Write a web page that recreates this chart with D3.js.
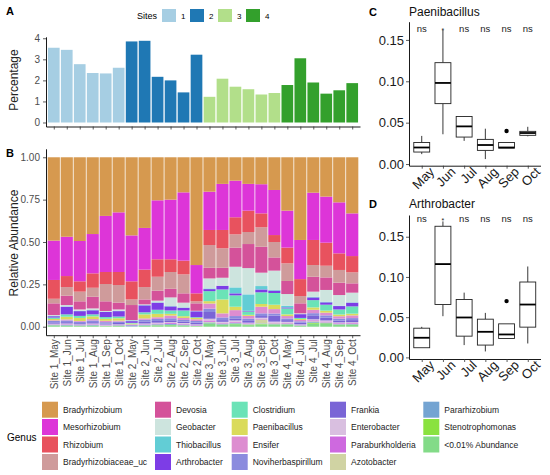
<!DOCTYPE html>
<html>
<head>
<meta charset="utf-8">
<script src="https://cdn.jsdelivr.net/npm/d3@7"></script>
<style>
  body { margin: 0; background: #fff; }
  text { font-family: "Liberation Sans", Arial, sans-serif; }
</style>
</head>
<body>
<div id="chart"></div>
<script>
// ---- data ----
const samples = ["Site 1_May","Site 1_Jun","Site 1_Jul","Site 1_Aug","Site 1_Sep","Site 1_Oct",
  "Site 2_May","Site 2_Jun","Site 2_Jul","Site 2_Aug","Site 2_Sep","Site 2_Oct",
  "Site 3_May","Site 3_Jun","Site 3_Jul","Site 3_Aug","Site 3_Sep","Site 3_Oct",
  "Site 4_May","Site 4_Jun","Site 4_Jul","Site 4_Aug","Site 4_Sep","Site 4_Oct"];
const sampleSite = ["1","1","1","1","1","1","2","2","2","2","2","2",
  "3","3","3","3","3","3","4","4","4","4","4","4"];
const siteNames = ["1","2","3","4"];
const siteColors = ["#a6cee3","#1f78b4","#b2df8a","#33a02c"];
const percentage = [3.55,3.45,2.77,2.35,2.33,2.6, 3.85,3.88,2.17,2.0,1.43,3.22,
  1.22,2.08,1.7,1.58,1.33,1.4, 1.78,3.05,1.9,1.37,1.53,1.87];

const genera = ["Bradyrhizobium","Mesorhizobium","Rhizobium","Bradyrhizobiaceae_uc",
  "Devosia","Geobacter","Thiobacillus","Arthrobacter",
  "Clostridium","Paenibacillus","Ensifer","Noviherbaspirillum",
  "Frankia","Enterobacter","Paraburkholderia","Azotobacter",
  "Pararhizobium","Stenotrophomonas","<0.01% Abundance"];
const genusColors = ["#d6994f","#dd35d8","#e8525e","#cf9b9b",
  "#d4529a","#cde4de","#62cdd5","#7d3de6",
  "#6be3b7","#dadb5b","#dd8dd0","#8b8bde",
  "#7a65d6","#d9bfe0","#ce69df","#d0d3a3",
  "#74a4d2","#8ae23f","#83db88"];
// one row per genus, one value per sample
const abundance = [
  [.492,.469,.494,.453,.346,.325,.461,.417,.254,.250,.207,.636,.203,.157,.138,.157,.159,.193,.315,.488,.209,.232,.266,.331],
  [.232,.232,.238,.232,.331,.352,.271,.246,.348,.352,.403,.167,.226,.272,.216,.158,.172,.266,.218,.231,.279,.272,.301,.252],
  [.111,.065,.061,.085,.071,.077,.107,.103,.103,.075,.081,.047,.089,.108,.101,.126,.082,.041,.093,.100,.148,.136,.098,.096],
  [.027,.051,.057,.053,.102,.104,.033,.073,.082,.099,.112,.012,.134,.115,.078,.071,.115,.091,.104,.043,.069,.069,.075,.065],
  [.069,.055,.048,.069,.057,.040,.089,.029,.059,.051,.055,.044,.063,.059,.113,.142,.153,.078,.077,.059,.088,.074,.073,.055],
  [.005,.008,.008,.009,.004,.008,.002,.004,.010,.051,.028,.002,.059,.047,.122,.155,.079,.114,.069,.004,.030,.069,.063,.057],
  [.002,.002,.002,.002,.002,.002,.004,.002,.002,.002,.002,.001,.004,.000,.035,.097,.020,.004,.010,.001,.004,.004,.002,.002],
  [.008,.045,.028,.024,.030,.032,.010,.041,.042,.024,.016,.035,.012,.022,.012,.004,.017,.014,.006,.022,.016,.014,.020,.022],
  [.008,.014,.012,.012,.010,.010,.004,.012,.024,.020,.034,.004,.059,.059,.067,.020,.069,.069,.035,.006,.043,.035,.030,.043],
  [.008,.016,.018,.016,.012,.014,.005,.024,.020,.010,.010,.008,.014,.082,.020,.006,.016,.026,.010,.006,.014,.012,.010,.010],
  [.004,.006,.005,.008,.008,.006,.002,.008,.010,.016,.012,.010,.030,.024,.035,.016,.039,.026,.014,.008,.020,.016,.014,.016],
  [.008,.010,.008,.010,.008,.008,.003,.012,.012,.012,.010,.010,.020,.016,.014,.010,.016,.012,.010,.008,.016,.014,.012,.012],
  [.008,.008,.007,.008,.006,.008,.003,.010,.010,.010,.008,.010,.040,.010,.012,.014,.010,.036,.010,.010,.020,.016,.010,.012],
  [.003,.004,.003,.004,.004,.003,.001,.004,.005,.006,.005,.004,.010,.006,.008,.004,.006,.006,.006,.003,.006,.006,.005,.005],
  [.002,.003,.002,.003,.002,.002,.001,.003,.004,.005,.004,.003,.008,.004,.005,.004,.004,.004,.004,.002,.006,.005,.004,.004],
  [.001,.001,.001,.001,.001,.001,.000,.001,.001,.001,.001,.001,.004,.002,.003,.002,.024,.003,.002,.001,.003,.002,.002,.002],
  [.004,.004,.003,.004,.002,.003,.002,.004,.005,.005,.004,.002,.006,.004,.004,.003,.003,.003,.003,.002,.005,.004,.003,.003],
  [.002,.001,.001,.001,.001,.001,.000,.001,.002,.002,.001,.001,.003,.002,.002,.002,.002,.002,.002,.001,.006,.004,.002,.002],
  [.006,.006,.004,.006,.003,.004,.002,.006,.007,.009,.007,.003,.016,.011,.015,.009,.014,.012,.012,.005,.018,.016,.010,.011]
];

const months = ["May","Jun","Jul","Aug","Sep","Oct"];
// [lower whisker, Q1, median, Q3, upper whisker]
const paeniStats = [[.012,.0145,.020,.026,.034],[.036,.073,.098,.1225,.162],[.028,.0326,.0455,.0575,.058],
  [.006,.0165,.023,.0298,.0427],[.0193,.0193,.020,.026,.026],[.0335,.0347,.0375,.0395,.045]];
const paeniOutliers = [[],[],[],[],[.040],[]];
const paeniSig = ["ns","*","ns","ns","ns","ns"];
const arthroStats = [[.012,.012,.0244,.0363,.038],[.0512,.0657,.116,.163,.169],[.0153,.0264,.0496,.0719,.0805],
  [.0074,.0153,.0318,.0475,.0553],[.0235,.0235,.0285,.0417,.0417],[.0173,.0376,.0657,.0937,.113]];
const arthroOutliers = [[],[],[],[],[.070],[]];
const arthroSig = ["ns","*","ns","ns","ns","ns"];

// ---- setup ----
const svg = d3.select("#chart").append("svg")
  .attr("width", 550).attr("height", 475);

function styleAxis(g, color, size) {
  g.select(".domain").attr("stroke", "#000").attr("stroke-width", 0.9);
  g.selectAll(".tick line").attr("stroke", "#333").attr("stroke-width", 0.8);
  g.selectAll(".tick text").attr("fill", color).style("font-size", size + "px")
    .style("font-family", "'Liberation Sans', Arial, sans-serif");
}

function panelLabel(x, y, t) {
  svg.append("text").attr("x", x).attr("y", y).text(t)
    .style("font-size", "11px").style("font-weight", "bold");
}

const xS = d3.scalePoint().domain(samples).range([46, 360]).padding(0.6);

// ---- panel A ----
const yA = d3.scaleLinear().domain([-0.19, 4.07]).range([126.5, 36.8]);
const gA = svg.append("g");
const bwA = xS.step() * 0.9;
gA.selectAll(".barA")
  .data(samples)
  .join("rect")
  .attr("class", "barA")
  .attr("x", d => xS(d) - bwA / 2)
  .attr("width", bwA)
  .attr("y", (d, i) => yA(percentage[i]))
  .attr("height", (d, i) => yA(0) - yA(percentage[i]))
  .attr("fill", (d, i) => siteColors[siteNames.indexOf(sampleSite[i])]);

gA.append("g").attr("transform", "translate(46,0)")
  .call(d3.axisLeft(yA).tickValues([0, 1, 2, 3, 4]).tickFormat(d3.format("d"))
    .tickSize(3).tickPadding(3).tickSizeOuter(0))
  .call(g => styleAxis(g, "#4d4d4d", 10));
gA.append("g").attr("transform", "translate(0,126.5)")
  .call(d3.axisBottom(xS).tickFormat("").tickSize(3).tickSizeOuter(0))
  .call(g => styleAxis(g, "#4d4d4d", 10));
svg.append("text").attr("transform", "translate(18,80) rotate(-90)")
  .attr("text-anchor", "middle").style("font-size", "12px").attr("fill", "#222").text("Percentage");
panelLabel(6, 15, "A");

// sites legend
svg.append("text").attr("x", 137).attr("y", 19).style("font-size", "9px").text("Sites");
const keyX = [162, 190, 218, 246];
siteNames.forEach((s, i) => {
  svg.append("rect").attr("x", keyX[i]).attr("y", 9).attr("width", 14).attr("height", 13)
    .attr("fill", siteColors[i]);
  svg.append("text").attr("x", keyX[i] + 19).attr("y", 18.5).style("font-size", "8px").text(s);
});

// ---- panel B ----
const yB = d3.scaleLinear().domain([-0.05, 1.05]).range([335.2, 148.8]);
const table = samples.map((s, i) => {
  const row = { sample: s };
  genera.forEach((g, k) => { row[g] = abundance[k][i]; });
  return row;
});
const stacked = d3.stack().keys(genera.slice().reverse())(table);
const bwB = xS.step() * 0.94;
const gB = svg.append("g");
gB.selectAll(".layer")
  .data(stacked)
  .join("g")
  .attr("class", "layer")
  .attr("fill", d => genusColors[genera.indexOf(d.key)])
  .selectAll("rect")
  .data(d => d)
  .join("rect")
  .attr("x", d => xS(d.data.sample) - bwB / 2)
  .attr("width", bwB)
  .attr("y", d => yB(d[1]))
  .attr("height", d => Math.max(0, yB(d[0]) - yB(d[1])));

gB.append("g").attr("transform", "translate(46,0)")
  .call(d3.axisLeft(yB).tickValues([0, 0.25, 0.5, 0.75, 1]).tickFormat(d3.format(".2f"))
    .tickSize(3).tickPadding(3).tickSizeOuter(0))
  .call(g => styleAxis(g, "#4d4d4d", 10));
gB.append("g").attr("transform", "translate(0,335.2)")
  .call(d3.axisBottom(xS).tickSize(3).tickSizeOuter(0))
  .call(g => styleAxis(g, "#4d4d4d", 10))
  .call(g => g.selectAll(".tick text")
    .attr("transform", "rotate(-90)")
    .attr("text-anchor", "end")
    .attr("x", -4).attr("y", 0).attr("dy", "0.35em"));
svg.append("text").attr("transform", "translate(17.5,243) rotate(-90)")
  .attr("text-anchor", "middle").style("font-size", "12px").attr("fill", "#222").text("Relative Abundance");
panelLabel(6, 157, "B");

// ---- genus legend ----
const colX = [42, 155, 231.7, 330, 423.3];
const rowY = [401.7, 419, 436.5, 454];
svg.append("text").attr("x", 7).attr("y", 440.5).style("font-size", "10px").text("Genus");
genera.forEach((g, i) => {
  const cx = colX[Math.floor(i / 4)], cy = rowY[i % 4];
  svg.append("rect").attr("x", cx).attr("y", cy).attr("width", 16).attr("height", 16)
    .attr("fill", genusColors[i]);
  svg.append("text").attr("x", cx + 21).attr("y", cy + 11).style("font-size", "8.5px")
    .attr("fill", "#222").text(g);
});

// ---- box plots ----
function boxPanel(opts) {
  const x = d3.scalePoint().domain(months).range([409, 540.5]).padding(0.6);
  const y = d3.scaleLinear().domain(opts.domain).range(opts.range);
  const g = svg.append("g");
  const bw = x.step() * 0.75;
  const boxes = g.selectAll(".box")
    .data(months)
    .join("g")
    .attr("class", "box");
  boxes.append("line")
    .attr("x1", d => x(d)).attr("x2", d => x(d))
    .attr("y1", (d, i) => y(opts.stats[i][0])).attr("y2", (d, i) => y(opts.stats[i][1]))
    .attr("stroke", "#222").attr("stroke-width", 0.9);
  boxes.append("line")
    .attr("x1", d => x(d)).attr("x2", d => x(d))
    .attr("y1", (d, i) => y(opts.stats[i][3])).attr("y2", (d, i) => y(opts.stats[i][4]))
    .attr("stroke", "#222").attr("stroke-width", 0.9);
  boxes.append("rect")
    .attr("x", d => x(d) - bw / 2).attr("width", bw)
    .attr("y", (d, i) => y(opts.stats[i][3]))
    .attr("height", (d, i) => y(opts.stats[i][1]) - y(opts.stats[i][3]))
    .attr("fill", "#fff").attr("stroke", "#222").attr("stroke-width", 0.9);
  boxes.append("line")
    .attr("x1", d => x(d) - bw / 2).attr("x2", d => x(d) + bw / 2)
    .attr("y1", (d, i) => y(opts.stats[i][2])).attr("y2", (d, i) => y(opts.stats[i][2]))
    .attr("stroke", "#000").attr("stroke-width", 1.8);
  boxes.selectAll("circle")
    .data((d, i) => opts.outliers[i].map(v => ({ m: d, v: v })))
    .join("circle")
    .attr("cx", d => x(d.m)).attr("cy", d => y(d.v)).attr("r", 2.2).attr("fill", "#000");
  g.selectAll(".sig")
    .data(months)
    .join("text")
    .attr("class", "sig")
    .attr("x", d => x(d)).attr("y", (d, i) => opts.sig[i] === "*" ? opts.sigY + 1 : opts.sigY)
    .attr("text-anchor", "middle")
    .style("font-size", (d, i) => opts.sig[i] === "*" ? "7px" : "9.5px")
    .attr("fill", "#222")
    .text((d, i) => opts.sig[i]);

  g.append("g").attr("transform", "translate(409,0)")
    .call(d3.axisLeft(y).tickValues([0, 0.05, 0.1, 0.15]).tickFormat(d3.format(".2f"))
      .tickSize(3).tickPadding(2).tickSizeOuter(0))
    .call(a => styleAxis(a, "#1a1a1a", 13));
  g.append("g").attr("transform", `translate(0,${opts.range[0]})`)
    .call(d3.axisBottom(x).tickSize(3).tickSizeOuter(0))
    .call(a => styleAxis(a, "#1a1a1a", 13))
    .call(a => a.selectAll(".tick text")
      .attr("transform", "translate(6,0) rotate(-45)")
      .attr("text-anchor", "end")
      .attr("y", 0).attr("dy", "0.75em"));
  svg.append("text").attr("x", 409).attr("y", opts.titleY).style("font-size", "12px")
    .attr("fill", "#111").text(opts.title);
  panelLabel(369, opts.titleY, opts.label);
}

boxPanel({ stats: paeniStats, outliers: paeniOutliers, sig: paeniSig, title: "Paenibacillus",
  label: "C", domain: [-0.002, 0.172], range: [165.7, 21.7], sigY: 31.5, titleY: 15.5 });
boxPanel({ stats: arthroStats, outliers: arthroOutliers, sig: arthroSig, title: "Arthrobacter",
  label: "D", domain: [-0.002, 0.177], range: [359, 215], sigY: 222.3, titleY: 207.5 });
</script>
</body>
</html>
